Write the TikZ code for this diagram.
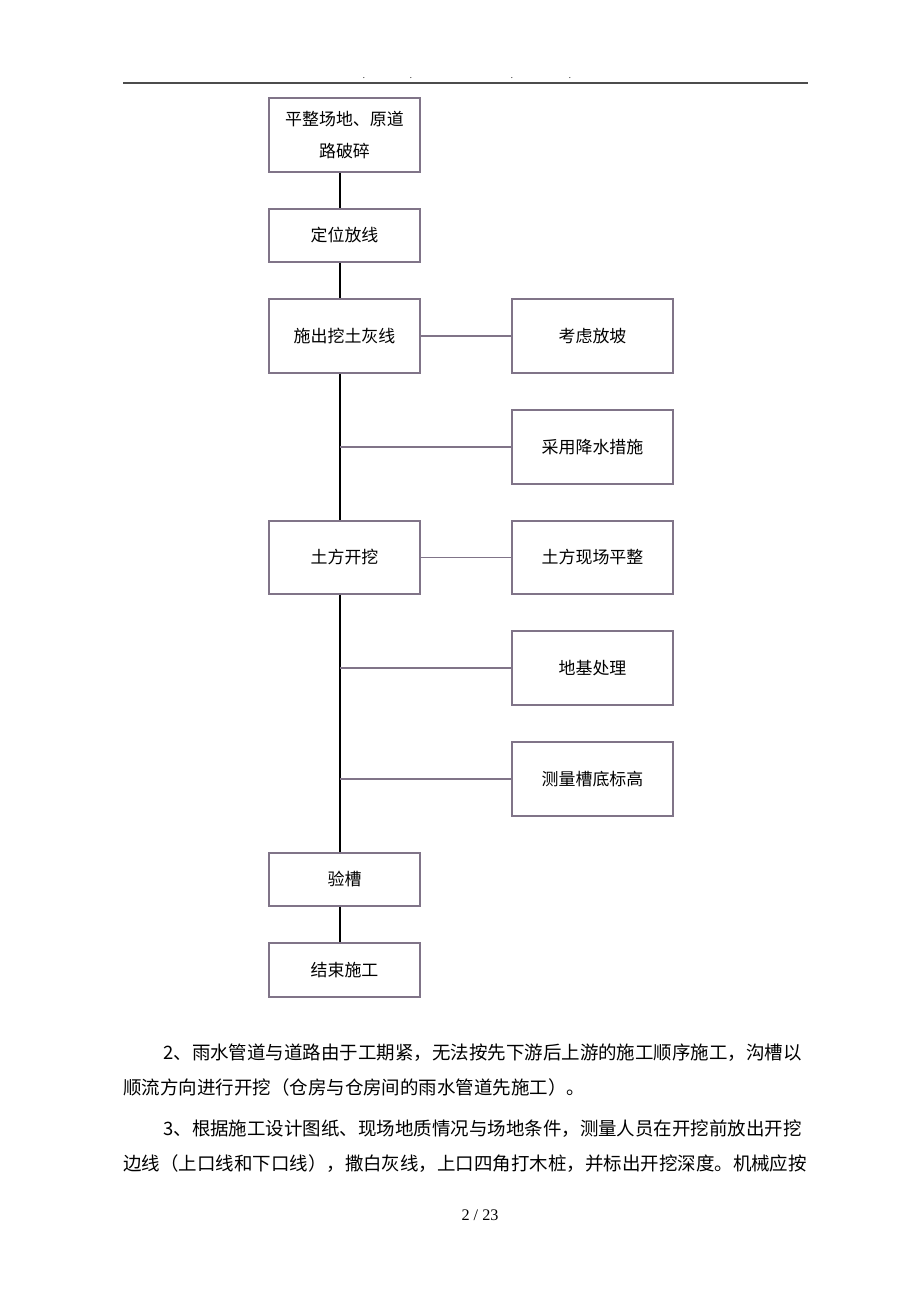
\documentclass[tikz,border=0pt]{standalone}
\usepackage{fontspec}
\setmainfont{Noto Sans CJK SC}
\newfontfamily\pagefont{Liberation Serif}
\usepackage{tikz}
\usetikzlibrary{calc}
\usepackage{xcolor}
\definecolor{boxGray}{RGB}{128,116,136}
\newlength\px
\setlength\px{0.022826cm}
\tikzset{
  procbox/.style={draw=boxGray, line width=0.8pt, minimum width=151\px,
    minimum height=53\px, inner sep=0pt, align=center,
    font=\fontsize{11}{21}\selectfont},
  sidebox/.style={procbox, minimum width=161\px, minimum height=74\px},
  trunk/.style={black, line width=0.8pt},
  branch/.style={boxGray, line width=0.8pt},
  bodytext/.style={anchor=base west, inner sep=0pt, font=\fontsize{12}{14}\selectfont},
}

\begin{document}
\begin{tikzpicture}[x=\px, y=-\px]
\useasboundingbox (0,0) rectangle (920,1302);

%%%%%%%%%%%%%%%%%%%%%%%%%%%%%%%%%%%%%%%%%%%%%%%%%%%%%%%%%%%%%% Setup
\coordinate (T) at (340,0);
% page head
\draw[black!70, line width=1.1pt] (123,83) -- (808,83);
\foreach \x in {364,411,512,570}
  \node[font=\tiny, inner sep=0pt] at (\x,78) {.};

%%%%%%%%%%%%%%%%%%%%%%%%%%%%%%%%%%%%%%%%%%%%%%%%%%%%%%%%%%%%%% Main column
\node[procbox, minimum height=74\px] (pz) at (344.5,135) {平整场地、原道\\路破碎};
\node[procbox] (dw) at (344.5,235.5) {定位放线};
\node[procbox, minimum height=74\px] (sc) at (344.5,336) {施出挖土灰线};
\node[procbox, minimum height=73\px] (tf) at (344.5,557.5) {土方开挖};
\node[procbox] (yc) at (344.5,879.5) {验槽};
\node[procbox, minimum height=54\px] (js) at (344.5,970) {结束施工};

\draw[trunk] (pz.south -| T) -- (dw.north -| T);
\draw[trunk] (dw.south -| T) -- (sc.north -| T);
\draw[trunk] (sc.south -| T) -- (tf.north -| T);
\draw[trunk] (tf.south -| T) -- (yc.north -| T);
\draw[trunk] (yc.south -| T) -- (js.north -| T);

%%%%%%%%%%%%%%%%%%%%%%%%%%%%%%%%%%%%%%%%%%%%%%%%%%%%%%%%%%%%%% Side column
\node[sidebox] (kl) at (592.5,336) {考虑放坡};
\node[sidebox] (js2) at (592.5,447) {采用降水措施};
\node[sidebox, minimum height=73\px] (xc) at (592.5,557.5) {土方现场平整};
\node[sidebox] (dj) at (592.5,668) {地基处理};
\node[sidebox] (cl) at (592.5,779) {测量槽底标高};

\draw[branch] (sc.east) -- (kl.west);
\draw[branch] (js2.west) -- (js2.west -| T);
\draw[branch] (tf.east) -- (xc.west);
\draw[branch] (dj.west) -- (dj.west -| T);
\draw[branch] (cl.west) -- (cl.west -| T);

%%%%%%%%%%%%%%%%%%%%%%%%%%%%%%%%%%%%%%%%%%%%%%%%%%%%%%%%%%%%%% Body text
\node[bodytext] (l1) at (163,1059) {2、雨水管道与道路由于工期紧，无法按先下游后上游的施工顺序施工，沟槽以};
\node[bodytext] (l2) at (123,1094) {顺流方向进行开挖（仓房与仓房间的雨水管道先施工）。};
\node[bodytext] (l3) at (163,1135) {3、根据施工设计图纸、现场地质情况与场地条件，测量人员在开挖前放出开挖};
\node[bodytext] (l4) at (123,1170) {边线（上口线和下口线），撒白灰线，上口四角打木桩，并标出开挖深度。机械应按};

\node[font=\pagefont\fontsize{10.5}{12}\selectfont] (pg) at (480,1215) {2 / 23};

\end{tikzpicture}
\end{document}
